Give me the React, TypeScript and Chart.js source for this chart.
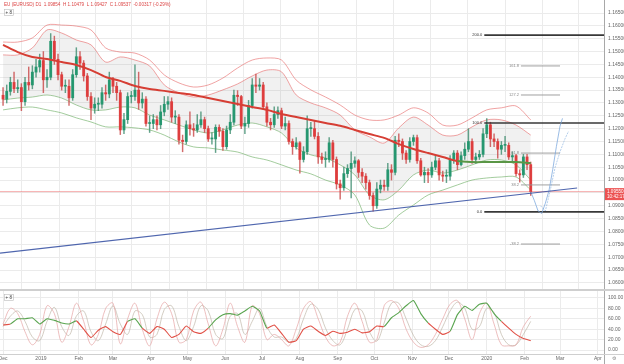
import React, { useEffect, useRef } from "react";
import { Chart, registerables } from "chart.js";

Chart.register(...registerables);

// ---------------- data ----------------
const headerText = "EU (EURUSD) D1  1.09854  H 1.10479  L 1.09427  C 1.09537  -0.00317 (-0.29%)";

// daily-ish candles, one every 3 calendar days starting 1 Dec 2018 (day 0)
const candleStartDay = 0;
const candleStepDays = 3;
const firstOpen = 1.133;
const closes = [
  1.1315, 1.1345, 1.138, 1.1355, 1.136, 1.1305, 1.138, 1.137, 1.142, 1.144,
  1.1465, 1.139, 1.14, 1.154, 1.147, 1.141, 1.1365, 1.1365, 1.132, 1.141,
  1.148, 1.1455, 1.1405, 1.1325, 1.128, 1.1295, 1.1295, 1.134, 1.1335, 1.139,
  1.1365, 1.134, 1.1195, 1.1235, 1.1325, 1.1325, 1.135, 1.13, 1.1315, 1.122,
  1.122, 1.1235, 1.1215, 1.1265, 1.1295, 1.1305, 1.1245, 1.1245, 1.1155, 1.115,
  1.1215, 1.12, 1.1195, 1.1215, 1.1235, 1.12, 1.116, 1.116, 1.1205, 1.119,
  1.113, 1.1195, 1.1225, 1.133, 1.1325, 1.121, 1.122, 1.129, 1.137, 1.1365,
  1.137, 1.1285, 1.1225, 1.1215, 1.1255, 1.127, 1.121, 1.122, 1.115, 1.113,
  1.1145, 1.108, 1.111, 1.12, 1.12, 1.117, 1.109, 1.108, 1.108, 1.1145,
  1.108, 1.0985, 1.097, 1.1025, 1.1045, 1.1065, 1.1075, 1.103, 1.1015, 1.099,
  1.094, 1.09, 1.0965, 1.098, 1.0975, 1.104, 1.103, 1.1155, 1.115, 1.1105,
  1.108, 1.115, 1.1165, 1.1075, 1.102, 1.103, 1.102, 1.105, 1.1075, 1.102,
  1.1015, 1.1015, 1.108, 1.1105, 1.106, 1.1095, 1.112, 1.115, 1.108, 1.109,
  1.11, 1.118, 1.1215, 1.116, 1.115, 1.112, 1.1135, 1.1135, 1.109, 1.1095,
  1.1025, 1.102, 1.109, 1.106, 1.0955,
];
const highs = [
  1.136, 1.137, 1.14, 1.142, 1.139, 1.1375, 1.14, 1.144, 1.1445, 1.147,
  1.149, 1.15, 1.143, 1.157, 1.156, 1.149, 1.142, 1.139, 1.139, 1.143,
  1.1515, 1.15, 1.1465, 1.1415, 1.134, 1.132, 1.132, 1.136, 1.137, 1.142,
  1.14, 1.138, 1.135, 1.126, 1.134, 1.1345, 1.1448, 1.142, 1.134, 1.1325,
  1.125, 1.1255, 1.125, 1.129, 1.1325, 1.1325, 1.132, 1.127, 1.1255, 1.1175,
  1.123, 1.1265, 1.122, 1.1255, 1.1265, 1.1245, 1.121, 1.1185, 1.1215, 1.1215,
  1.12, 1.121, 1.1255, 1.135, 1.1348, 1.133, 1.1245, 1.131, 1.1395, 1.1412,
  1.1395, 1.138, 1.13, 1.124, 1.1285, 1.1285, 1.128, 1.1245, 1.123, 1.116,
  1.1165, 1.115, 1.113, 1.125, 1.1225, 1.123, 1.1185, 1.1105, 1.111, 1.1165,
  1.1155, 1.109, 1.1, 1.105, 1.106, 1.111, 1.109, 1.108, 1.1045, 1.1025,
  1.1, 1.095, 1.099, 1.1, 1.1, 1.1065, 1.106, 1.117, 1.118, 1.116,
  1.1115, 1.1165, 1.1175, 1.1175, 1.1085, 1.105, 1.1045, 1.107, 1.1095, 1.1085,
  1.1035, 1.104, 1.1095, 1.1115, 1.1115, 1.111, 1.1145, 1.12, 1.116, 1.1105,
  1.1115, 1.12, 1.1239, 1.1225, 1.118, 1.116, 1.115, 1.117, 1.1145, 1.111,
  1.11, 1.104, 1.11, 1.11, 1.107,
];
const lows = [
  1.129, 1.13, 1.133, 1.134, 1.134, 1.127, 1.129, 1.135, 1.1355, 1.14,
  1.142, 1.134, 1.136, 1.139, 1.145, 1.139, 1.135, 1.134, 1.129, 1.131,
  1.14, 1.143, 1.1385, 1.131, 1.1235, 1.126, 1.127, 1.128, 1.131, 1.132,
  1.134, 1.131, 1.1177, 1.118, 1.122, 1.13, 1.131, 1.1275, 1.128, 1.121,
  1.1185, 1.12, 1.1195, 1.12, 1.125, 1.1275, 1.1225, 1.122, 1.114, 1.111,
  1.114, 1.1175, 1.117, 1.1185, 1.1205, 1.1185, 1.115, 1.114, 1.1107, 1.117,
  1.1115, 1.112, 1.118, 1.1215, 1.129, 1.12, 1.118, 1.1205, 1.128, 1.134,
  1.135, 1.1275, 1.121, 1.1195, 1.1205, 1.124, 1.12, 1.1195, 1.114, 1.11,
  1.112, 1.1027, 1.107, 1.11, 1.117, 1.116, 1.1065, 1.1065, 1.105, 1.107,
  1.105, 1.0965, 1.0926, 1.096, 1.101, 1.093, 1.105, 1.101, 1.099, 1.0965,
  1.0925, 1.0879, 1.089, 1.095, 1.096, 1.096, 1.1, 1.102, 1.113, 1.108,
  1.1065, 1.107, 1.1135, 1.1065, 1.1015, 1.099, 1.099, 1.101, 1.104, 1.1,
  1.0995, 1.099, 1.1, 1.1065, 1.104, 1.1055, 1.108, 1.111, 1.1065, 1.1065,
  1.108, 1.109, 1.1165, 1.113, 1.113, 1.1085, 1.11, 1.111, 1.108, 1.1075,
  1.1015, 1.0992, 1.101, 1.104, 1.094,
];

// indicator lines, one value every 12 days
const bandStartDay = 0;
const bandStepDays = 12;
const outerUpper = [
  1.1537, 1.1537, 1.1553, 1.1603, 1.1603, 1.1599, 1.1584, 1.1514, 1.1498, 1.1494,
  1.1467, 1.1409, 1.1378, 1.1362, 1.137, 1.1397, 1.1436, 1.1467, 1.1475, 1.1467,
  1.1389, 1.1351, 1.1323, 1.1292, 1.1253, 1.1234, 1.1234, 1.1253, 1.1281, 1.1261,
  1.1214, 1.1214, 1.1242, 1.1273, 1.1281, 1.1288, 1.1234,
];
const innerUpper = [
  1.1487, 1.1487, 1.1514, 1.1584, 1.1572, 1.1545, 1.1526, 1.1459, 1.1479, 1.1467,
  1.1444, 1.137, 1.1339, 1.1323, 1.1331, 1.1351, 1.1374, 1.1405, 1.1428, 1.1421,
  1.1331, 1.13, 1.1281, 1.1253, 1.1195, 1.1168, 1.1144, 1.1203, 1.1245, 1.1214,
  1.1175, 1.1175, 1.1207, 1.1234, 1.1234, 1.1214, 1.1175,
];
const innerLower = [
  1.1312, 1.1319, 1.1323, 1.1331, 1.1319, 1.1292, 1.1273, 1.1273, 1.1284, 1.1281,
  1.1253, 1.1234, 1.1214, 1.1195, 1.1183, 1.1195, 1.1214, 1.1222, 1.1207, 1.1183,
  1.1125, 1.1098, 1.1086, 1.1059, 1.102, 1.0942, 1.0923, 1.0961, 1.102, 1.1039,
  1.1027, 1.1039, 1.1059, 1.1078, 1.1078, 1.1059, 1.1,
];
const outerLower = [
  1.1273, 1.1281, 1.1284, 1.1273, 1.1261, 1.1242, 1.1226, 1.1207, 1.1207, 1.1203,
  1.1195, 1.1175, 1.1148, 1.1129, 1.1125, 1.1117, 1.1109, 1.109, 1.1078, 1.1059,
  1.1039, 1.1024, 1.1, 1.0981, 1.0942, 1.0825, 1.0813, 1.0864, 1.0903, 1.0942,
  1.0961, 1.0981, 1.1, 1.1008, 1.1012, 1.1012, 1.0961,
];
const movingAvg = [
  1.1526, 1.1498, 1.1479, 1.1471, 1.1459, 1.1448, 1.1428, 1.1401, 1.1386, 1.1366,
  1.1354, 1.1347, 1.1339, 1.1331, 1.1319, 1.1308, 1.1296, 1.1284, 1.1273, 1.1257,
  1.1245, 1.1234, 1.1222, 1.1211, 1.1195, 1.1179, 1.1164, 1.114, 1.1121, 1.1105,
  1.109, 1.1074, 1.107, 1.107, 1.107, 1.107, 1.1066,
];
const maTurnDay = 372;

// oscillator panel, one value every 6 days
const oscStartDay = 0;
const oscStepDays = 6;
const stochK = [
  50, 80, 70, 35, 10, 30, 85, 70, 15, 45, 90, 55, 10, 30, 80, 90, 12, 60, 90, 40,
  8, 60, 92, 70, 15, 20, 75, 92, 50, 8, 40, 90, 45, 15, 85, 70, 20, 30, 20, 8,
  40, 80, 93, 60, 25, 8, 15, 65, 90, 55, 15, 20, 85, 95, 80, 40, 15, 5, 10, 30,
  60, 88, 95, 60, 20, 70, 90, 50, 10, 8, 10, 45, 65,
];
const stochD = [
  45, 65, 75, 55, 25, 18, 55, 82, 45, 28, 65, 75, 35, 18, 50, 85, 50, 30, 75, 68,
  25, 30, 78, 85, 45, 18, 45, 85, 75, 30, 22, 65, 70, 30, 55, 80, 45, 25, 25, 15,
  22, 60, 88, 78, 42, 18, 10, 40, 78, 75, 35, 17, 52, 90, 90, 60, 28, 10, 7, 18,
  45, 75, 92, 80, 40, 45, 80, 72, 30, 10, 10, 30, 55,
];
const momentum = [
  48, 50, 60, 60, 62, 50, 60, 57, 52, 50, 56, 40, 24, 38, 45, 35, 30, 55, 60, 42,
  32, 45, 40, 24, 30, 46, 35, 32, 42, 58, 68, 70, 67, 75, 84, 75, 42, 48, 32, 15,
  18, 40, 46, 36, 28, 36, 32, 34, 40, 33, 35, 46, 45, 62, 72, 85, 95, 70, 52, 40,
  30, 36, 68, 84, 76, 88, 90, 70, 55, 42, 30, 22, 18,
];

// axes
const monthDays = [0, 31, 62, 90, 121, 151, 182, 212, 243, 274, 304, 335, 365, 396, 427, 456, 487];
const monthLabels = ["Dec", "2019", "Feb", "Mar", "Apr", "May", "Jun", "Jul", "Aug", "Sep", "Oct", "Nov", "Dec", "2020", "Feb", "Mar", "Apr"];
const priceTicks = [
  1.165, 1.16, 1.155, 1.15, 1.145, 1.14, 1.135, 1.13, 1.125, 1.12, 1.115,
  1.11, 1.105, 1.1, 1.095, 1.09, 1.085, 1.08, 1.075, 1.07, 1.065, 1.06,
];
const oscTicks = [100, 80, 60, 40, 20, 0];

// projection levels
const levelPrices = [1.1564, 1.1444, 1.1331, 1.1222, 1.1105, 1.0981, 1.0876, 1.0751];
const levelFrom = [394, 424, 424, 394, 424, 424, 394, 424];
const levelTo = [492, 456, 456, 492, 456, 456, 492, 456];
const levelMajor = [true, false, false, true, false, false, true, false];
const levelLabels = ["200.0", "161.8", "127.2", "100.0", "61.8", "38.2", "0.0", "-38.2"];

// trend line
const trendDays = [-2.5, 470];
const trendPrices = [1.0716, 1.0969];

// projected paths
const projADays = [432, 435, 438, 441, 444, 447, 450, 453, 456, 458];
const projAPrices = [1.0955, 1.092, 1.088, 1.087, 1.091, 1.096, 1.104, 1.113, 1.121, 1.124];
const projBDays = [440, 444, 448, 452, 456, 460, 463];
const projBPrices = [1.09, 1.088, 1.096, 1.105, 1.111, 1.116, 1.119];

// ---------------- helpers ----------------
const X_MIN = -2.5;
const X_MAX = 492;
const P_MAX = 1.17006;
const P_MIN = 1.05683;
const O_MAX = 113.46;
const O_MIN = -7.69;
const FONT = '"Liberation Sans", Arial, sans-serif';

const candleDay = (i: number) => candleStartDay + i * candleStepDays;
const bandDay = (i: number) => bandStartDay + i * bandStepDays;
const oscDay = (i: number) => oscStartDay + i * oscStepDays;
const opens = closes.map((_, i) => (i === 0 ? firstOpen : closes[i - 1]));
const lastClose = closes[closes.length - 1];

const UP = "rgba(34,150,110,0.95)";
const DOWN = "rgba(222,58,58,0.95)";
const RED_BAND = "rgba(232,110,110,0.8)";
const GREEN_BAND = "rgba(110,175,100,0.8)";
const GRID = "#ebebeb";

const line = (data: any[], color: string, width: number, order: number, extra: any = {}) => ({
  type: "line",
  data,
  borderColor: color,
  borderWidth: width,
  pointRadius: 0,
  fill: false,
  tension: 0,
  order,
  ...extra,
});

function mainConfig(): any {
  const bandSeries = (arr: number[]) => arr.map((v, i) => ({ x: bandDay(i), y: v }));
  const datasets: any[] = [
    {
      type: "bar",
      data: closes.map((_, i) => ({ x: candleDay(i), y: [lows[i], highs[i]] })),
      backgroundColor: (c: any) => (closes[c.dataIndex] >= opens[c.dataIndex] ? "rgba(60,140,110,0.8)" : "rgba(200,70,70,0.8)"),
      barThickness: 0.8,
      grouped: false,
      order: 4,
    },
    {
      type: "bar",
      data: closes.map((c, i) => ({ x: candleDay(i), y: [opens[i], c] })),
      backgroundColor: (c: any) => (closes[c.dataIndex] >= opens[c.dataIndex] ? UP : DOWN),
      barThickness: 2.2,
      minBarLength: 1,
      grouped: false,
      order: 3,
    },
    line(movingAvg.map((v, i) => ({ x: bandDay(i), y: v })), "rgb(214,62,52)", 2, 1, {
      tension: 0.3,
      segment: { borderColor: (c: any) => (c.p0.parsed.x >= maTurnDay ? "rgb(90,150,70)" : "rgb(214,62,52)") },
    }),
    line(bandSeries(outerUpper), RED_BAND, 0.8, 8, { tension: 0.3 }),
    line(bandSeries(innerUpper), RED_BAND, 0.8, 8, { tension: 0.3, fill: "+1", backgroundColor: "rgba(150,150,150,0.13)" }),
    line(bandSeries(innerLower), GREEN_BAND, 0.8, 8, { tension: 0.3 }),
    line(bandSeries(outerLower), GREEN_BAND, 0.8, 8, { tension: 0.3 }),
    line(trendDays.map((d, i) => ({ x: d, y: trendPrices[i] })), "rgba(60,85,165,0.9)", 1.2, 2),
    line([{ x: X_MIN, y: lastClose }, { x: X_MAX, y: lastClose }], "rgba(240,110,110,0.7)", 0.8, 7),
    line(projADays.map((d, i) => ({ x: d, y: projAPrices[i] })), "rgba(120,165,220,0.75)", 1, 2),
    line(projBDays.map((d, i) => ({ x: d, y: projBPrices[i] })), "rgba(140,180,225,0.65)", 1, 2, { borderDash: [2, 1] }),
  ];
  levelPrices.forEach((p, i) => {
    datasets.push(
      line(
        [{ x: levelFrom[i], y: p }, { x: levelTo[i], y: p }],
        levelMajor[i] ? "rgba(45,45,45,0.95)" : "rgba(150,150,150,0.9)",
        levelMajor[i] ? 1.6 : 1,
        2
      )
    );
  });

  const decor = {
    id: "mainDecor",
    afterDraw(chart: any) {
      const { ctx, chartArea } = chart;
      const ys = chart.scales.y;
      const xs = chart.scales.x;
      ctx.save();
      ctx.strokeStyle = "#a8a8a8";
      ctx.lineWidth = 1;
      ctx.beginPath();
      ctx.moveTo(chartArea.right + 0.5, 0);
      ctx.lineTo(chartArea.right + 0.5, chart.height);
      ctx.stroke();
      ctx.strokeStyle = "#cfcfcf";
      ctx.lineWidth = 2;
      ctx.beginPath();
      ctx.moveTo(0, chart.height - 1);
      ctx.lineTo(chart.width, chart.height - 1);
      ctx.stroke();
      ctx.font = `5px ${FONT}`;
      ctx.fillStyle = "#666";
      ctx.textAlign = "left";
      ctx.textBaseline = "middle";
      priceTicks.forEach((v) => ctx.fillText(v.toFixed(5), chartArea.right + 4, ys.getPixelForValue(v)));
      ctx.font = `4px ${FONT}`;
      ctx.textAlign = "right";
      levelPrices.forEach((p, i) => {
        ctx.fillStyle = levelMajor[i] ? "#333" : "#888";
        ctx.fillText(levelLabels[i], xs.getPixelForValue(levelFrom[i]) - 2, ys.getPixelForValue(p));
      });
      ctx.font = `4.6px ${FONT}`;
      ctx.textAlign = "left";
      ctx.fillStyle = "rgb(220,70,70)";
      ctx.fillText(headerText, 4, 5);
      ctx.strokeStyle = "#bbb";
      ctx.lineWidth = 0.6;
      ctx.strokeRect(4.5, 9.5, 9, 6);
      ctx.fillStyle = "#444";
      ctx.font = `4.5px ${FONT}`;
      ctx.fillText("+ 8", 5.5, 12.6);
      const py = ys.getPixelForValue(lastClose);
      ctx.fillStyle = "rgb(236,82,82)";
      ctx.fillRect(chartArea.right + 1, py - 3.5, 19, 12);
      ctx.fillStyle = "#fff";
      ctx.font = `4.6px ${FONT}`;
      ctx.fillText(lastClose.toFixed(5), chartArea.right + 3, py);
      ctx.fillText("10:42:17", chartArea.right + 3, py + 5.5);
      ctx.restore();
    },
  };

  return {
    type: "line",
    data: { datasets },
    options: {
      responsive: false,
      animation: false,
      devicePixelRatio: 1,
      events: [],
      layout: { padding: 0 },
      plugins: { legend: { display: false }, tooltip: { enabled: false } },
      scales: {
        x: {
          type: "linear",
          min: X_MIN,
          max: X_MAX,
          offset: false,
          afterBuildTicks: (s: any) => {
            s.ticks = monthDays.map((v) => ({ value: v }));
          },
          ticks: { display: false },
          grid: { color: GRID, drawTicks: false },
          border: { display: false },
        },
        y: {
          type: "linear",
          position: "right",
          min: P_MIN,
          max: P_MAX,
          afterBuildTicks: (s: any) => {
            s.ticks = priceTicks.map((v) => ({ value: v }));
          },
          afterFit: (s: any) => {
            s.width = 20;
          },
          ticks: { display: false },
          grid: { color: GRID, drawTicks: false },
          border: { display: false },
        },
      },
    },
    plugins: [decor],
  };
}

function oscConfig(): any {
  const series = (arr: number[]) => arr.map((v, i) => ({ x: oscDay(i), y: v }));
  const datasets: any[] = [
    line(series(stochK), "rgba(228,160,160,0.75)", 0.9, 3, { tension: 0.35 }),
    line(series(stochD), "rgba(190,180,165,0.75)", 0.9, 3, { tension: 0.35 }),
    line(series(momentum), "rgb(220,70,60)", 1.1, 1, {
      tension: 0.15,
      segment: {
        borderColor: (c: any) => ((c.p0.parsed.y + c.p1.parsed.y) / 2 >= 50 ? "rgb(90,165,80)" : "rgb(225,80,70)"),
      },
    }),
  ];
  const decor = {
    id: "oscDecor",
    afterDraw(chart: any) {
      const { ctx, chartArea } = chart;
      const ys = chart.scales.y;
      const xs = chart.scales.x;
      ctx.save();
      ctx.strokeStyle = "#a8a8a8";
      ctx.lineWidth = 1;
      ctx.beginPath();
      ctx.moveTo(chartArea.right + 0.5, 0);
      ctx.lineTo(chartArea.right + 0.5, chart.height);
      ctx.stroke();
      ctx.strokeStyle = "#cfcfcf";
      ctx.beginPath();
      ctx.moveTo(0, chartArea.bottom + 0.5);
      ctx.lineTo(chart.width, chartArea.bottom + 0.5);
      ctx.stroke();
      ctx.font = `5px ${FONT}`;
      ctx.fillStyle = "#666";
      ctx.textAlign = "left";
      ctx.textBaseline = "middle";
      oscTicks.forEach((v) => ctx.fillText(v.toFixed(2), chartArea.right + 4, ys.getPixelForValue(v)));
      ctx.textAlign = "center";
      monthDays.forEach((d, i) => ctx.fillText(monthLabels[i], xs.getPixelForValue(d), chartArea.bottom + 5));
      ctx.strokeStyle = "#bbb";
      ctx.lineWidth = 0.6;
      ctx.strokeRect(4.5, 3.5, 9, 6);
      ctx.fillStyle = "#444";
      ctx.font = `4.5px ${FONT}`;
      ctx.textAlign = "left";
      ctx.fillText("+ 8", 5.5, 6.6);
      ctx.fillStyle = "#888";
      ctx.fillText("⚙", chartArea.right + 8, chartArea.bottom + 5);
      ctx.restore();
    },
  };
  return {
    type: "line",
    data: { datasets },
    options: {
      responsive: false,
      animation: false,
      devicePixelRatio: 1,
      events: [],
      layout: { padding: { left: 0, right: 0, top: 0, bottom: 10 } },
      plugins: { legend: { display: false }, tooltip: { enabled: false } },
      scales: {
        x: {
          type: "linear",
          min: X_MIN,
          max: X_MAX,
          afterBuildTicks: (s: any) => {
            s.ticks = monthDays.map((v) => ({ value: v }));
          },
          ticks: { display: false },
          grid: { color: GRID, drawTicks: false },
          border: { display: false },
        },
        y: {
          type: "linear",
          position: "right",
          min: O_MIN,
          max: O_MAX,
          afterBuildTicks: (s: any) => {
            s.ticks = oscTicks.map((v) => ({ value: v }));
          },
          afterFit: (s: any) => {
            s.width = 20;
          },
          ticks: { display: false },
          grid: { color: GRID, drawTicks: false },
          border: { display: false },
        },
      },
    },
    plugins: [decor],
  };
}

export default function App() {
  const mainRef = useRef<HTMLCanvasElement>(null);
  const oscRef = useRef<HTMLCanvasElement>(null);
  useEffect(() => {
    const c1 = new Chart(mainRef.current as HTMLCanvasElement, mainConfig());
    const c2 = new Chart(oscRef.current as HTMLCanvasElement, oscConfig());
    return () => {
      c1.destroy();
      c2.destroy();
    };
  }, []);
  return (
    <div style={{ position: "fixed", left: 0, top: 0, width: 624, height: 364, background: "#fff", overflow: "hidden" }}>
      <canvas ref={mainRef} width={624} height={291} style={{ position: "absolute", left: 0, top: 0, width: 624, height: 291 }} />
      <canvas ref={oscRef} width={624} height={73} style={{ position: "absolute", left: 0, top: 291, width: 624, height: 73 }} />
    </div>
  );
}
